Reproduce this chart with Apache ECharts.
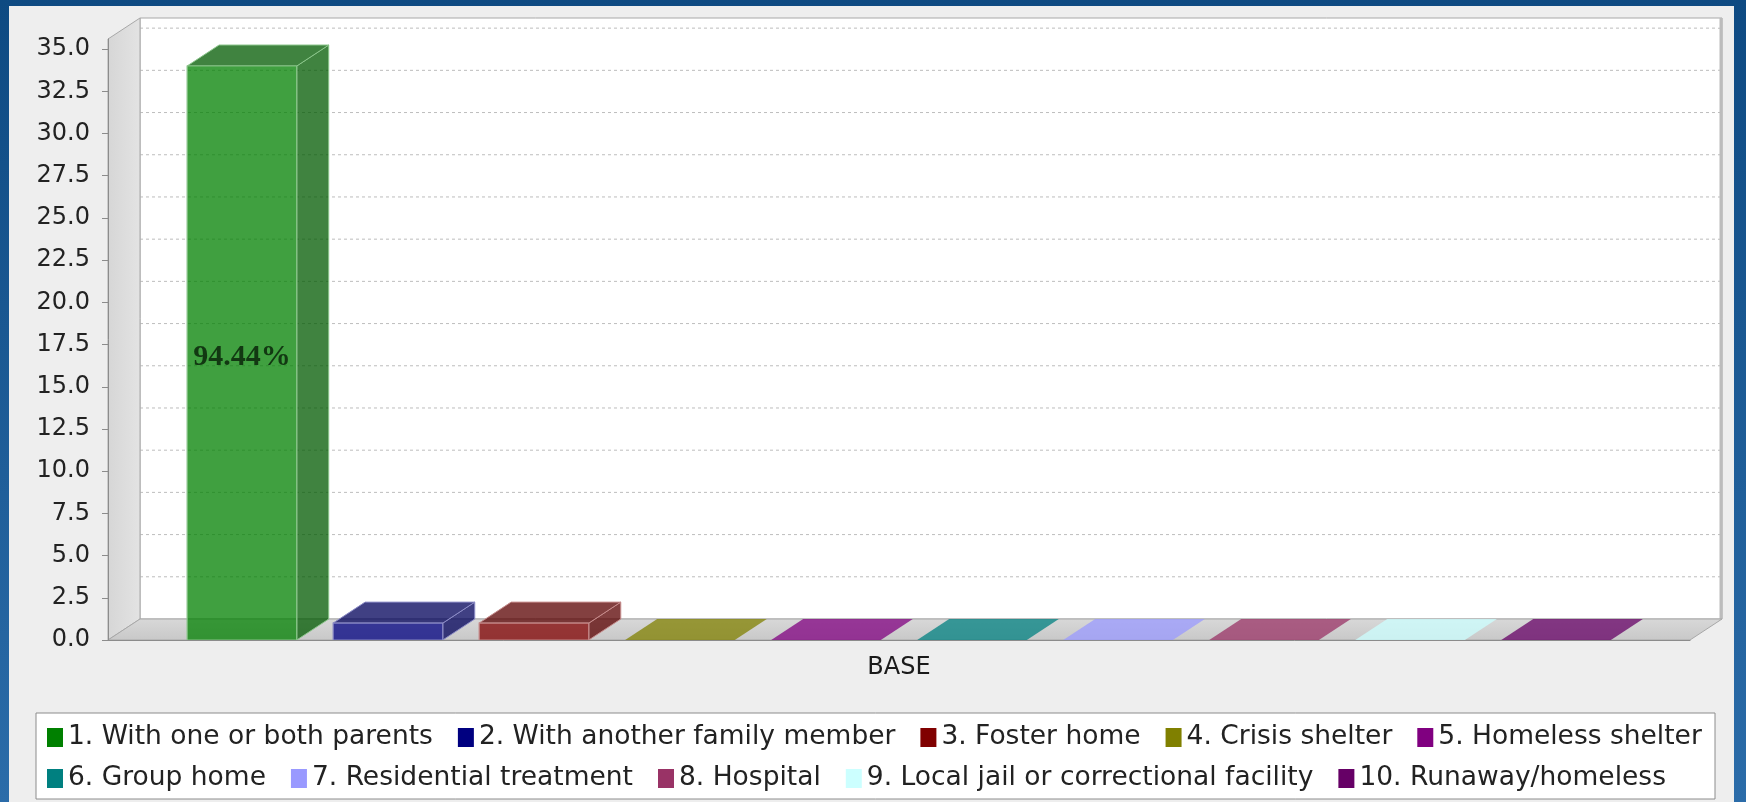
<!DOCTYPE html>
<html>
<head>
<meta charset="utf-8">
<script src="https://cdn.jsdelivr.net/npm/echarts@6/dist/echarts.min.js"></script>
<style>
html,body{margin:0;padding:0;background:#0f4c84;}
#chart{width:1746px;height:802px;}
</style>
</head>
<body>
<div id="chart"></div>
<script>
// ---------------- data ----------------
const categories = ['BASE'];
const seriesNames = [
  '1. With one or both parents',
  '2. With another family member',
  '3. Foster home',
  '4. Crisis shelter',
  '5. Homeless shelter',
  '6. Group home',
  '7. Residential treatment',
  '8. Hospital',
  '9. Local jail or correctional facility',
  '10. Runaway/homeless'
];
const seriesValues = [34, 1, 1, 0, 0, 0, 0, 0, 0, 0];
const seriesColors = ['#008000', '#000080', '#800000', '#808000', '#800080',
                      '#008080', '#9999ff', '#993366', '#ccffff', '#660066'];
const yTickValues = [0, 2.5, 5, 7.5, 10, 12.5, 15, 17.5, 20, 22.5, 25, 27.5, 30, 32.5, 35];
const yAxisMax = 35.6;
const legendRow1 = seriesNames.slice(0, 5);
const legendRow2 = seriesNames.slice(5);

// ---------------- style constants ----------------
const DX = 32, DY = 21;             // 3D depth offset
const LOWER = 0.05, UPPER = 0.05;   // category margins
const ITEM_MARGIN = 0.23;           // share of gaps between bars
const ALPHA = 0.75;
const LABEL_DY = 4;
const FONT = '"DejaVu Sans", sans-serif';

function hexToRgb(h) {
  h = h.replace('#', '');
  return [parseInt(h.substr(0, 2), 16), parseInt(h.substr(2, 2), 16), parseInt(h.substr(4, 2), 16)];
}
function rgba(c, a) { return 'rgba(' + c[0] + ',' + c[1] + ',' + c[2] + ',' + a + ')'; }
function darker(h) { return hexToRgb(h).map(v => Math.floor(v * 0.7)); }
function lighter(h) { return hexToRgb(h).map(v => Math.round(v + (255 - v) * 0.55)); }

const total = seriesValues.reduce((a, b) => a + b, 0);

function makeBarRenderer(i) {
  return function (params, api) {
    const bandW = api.size([1, 0])[0];
    const base = api.coord([api.value(0), 0]);
    const topPt = api.coord([api.value(0), api.value(1)]);
    const bandStart = base[0] - bandW / 2;
    const inner = bandW * (1 - LOWER - UPPER);
    const n = seriesValues.length;
    const w = inner * (1 - ITEM_MARGIN) / n;
    const gap = inner * ITEM_MARGIN / (n - 1);
    const x0 = bandStart + bandW * LOWER + i * (w + gap);
    const yB = base[1], yT = topPt[1];
    const col = seriesColors[i];
    const baseRgb = hexToRgb(col);
    const dark = darker(col);
    const light = rgba(lighter(col), 1);
    const h = yB - yT;
    const children = [];
    // side face
    children.push({
      type: 'polygon',
      shape: { points: [[x0 + w, yT], [x0 + w + DX, yT - DY], [x0 + w + DX, yB - DY], [x0 + w, yB]] },
      style: { fill: rgba(dark, ALPHA), stroke: h > 1 ? light : null, lineWidth: 1 }
    });
    // top face
    children.push({
      type: 'polygon',
      shape: { points: [[x0, yT], [x0 + DX, yT - DY], [x0 + w + DX, yT - DY], [x0 + w, yT]] },
      style: { fill: h > 1 ? rgba(dark, ALPHA) : rgba(baseRgb, ALPHA), stroke: h > 1 ? light : null, lineWidth: 1 }
    });
    // front face
    if (h > 0.5) {
      children.push({
        type: 'rect',
        shape: { x: x0, y: yT, width: w, height: h },
        style: { fill: rgba(baseRgb, ALPHA), stroke: light, lineWidth: 1.2 }
      });
    }
    // value label (percentage) when it fits inside the bar
    if (h > 40) {
      const pct = (api.value(1) / total * 100).toFixed(2) + '%';
      children.push({
        type: 'text',
        style: {
          text: pct, x: x0 + w / 2, y: (yT + yB) / 2 + LABEL_DY,
          align: 'center', verticalAlign: 'middle',
          fontFamily: '"Liberation Serif", serif', fontWeight: 'bold', fontSize: 30,
          fill: '#123812'
        }
      });
    }
    return { type: 'group', children: children };
  };
}

function renderFrame(params, api) {
  const cs = params.coordSys;
  const x1 = cs.x, x2 = cs.x + cs.width, yt = cs.y, yb = cs.y + cs.height;
  const children = [];
  // back wall
  children.push({
    type: 'rect',
    shape: { x: x1 + DX, y: yt - DY, width: cs.width, height: cs.height },
    style: { fill: '#ffffff', stroke: '#a8a8a8', lineWidth: 1 }
  });
  children.push({
    type: 'line',
    shape: { x1: x2 + DX - 1, y1: yt - DY, x2: x2 + DX - 1, y2: yb - DY },
    style: { stroke: '#bcbcbc', lineWidth: 3 }
  });
  // gridlines on back wall
  yTickValues.forEach(function (v) {
    if (v === 0) return;
    const y = api.coord([0, v])[1] - DY;
    children.push({
      type: 'line',
      shape: { x1: x1 + DX, y1: y, x2: x2 + DX - 2, y2: y },
      style: { stroke: '#bdbdbd', lineWidth: 1, lineDash: [3, 3] }
    });
  });
  // left wall
  children.push({
    type: 'polygon',
    shape: { points: [[x1, yt], [x1 + DX, yt - DY], [x1 + DX, yb - DY], [x1, yb]] },
    style: {
      fill: { type: 'linear', x: 0, y: 0, x2: 1, y2: 0,
              colorStops: [{ offset: 0, color: '#d6d6d6' }, { offset: 1, color: '#e3e3e3' }] },
      stroke: '#a8a8a8', lineWidth: 1
    }
  });
  // floor
  children.push({
    type: 'polygon',
    shape: { points: [[x1, yb], [x1 + DX, yb - DY], [x2 + DX, yb - DY], [x2, yb]] },
    style: {
      fill: { type: 'linear', x: 0, y: 0, x2: 0, y2: 1,
              colorStops: [{ offset: 0, color: '#d8d8d8' }, { offset: 1, color: '#c8c8c8' }] },
      stroke: '#a8a8a8', lineWidth: 1
    }
  });
  return { type: 'group', children: children };
}

const series = [{
  type: 'custom',
  name: '__frame',
  silent: true,
  z: 1,
  renderItem: renderFrame,
  data: [[0, 0]]
}];
seriesNames.forEach(function (name, i) {
  series.push({
    type: 'custom',
    name: name,
    z: 3,
    itemStyle: { color: seriesColors[i] },
    renderItem: makeBarRenderer(i),
    encode: { x: 0, y: 1 },
    data: [[0, seriesValues[i]]]
  });
});

const legendCommon = {
  left: 47,
  orient: 'horizontal',
  icon: 'rect',
  itemWidth: 16,
  itemHeight: 19,
  itemGap: 25,
  padding: 0,
  selectedMode: false,
  textStyle: { fontFamily: FONT, fontSize: 26.5, color: '#222222' }
};

const option = {
  animation: false,
  backgroundColor: {
    type: 'linear', x: 0, y: 0, x2: 0, y2: 1,
    colorStops: [{ offset: 0, color: '#0e4a82' }, { offset: 1, color: '#2b6ca9' }]
  },
  graphic: [
    { type: 'rect', z: -10, shape: { x: 9, y: 6, width: 1725, height: 800 },
      style: { fill: '#eeeeee' } },
    { type: 'rect', z: -9, shape: { x: 36, y: 713, width: 1679, height: 86 },
      style: { fill: '#ffffff', stroke: '#8c8c8c', lineWidth: 1 } }
  ],
  grid: { left: 108, right: 56, top: 39, bottom: 162, containLabel: false, outerBoundsMode: 'none' },
  xAxis: {
    type: 'category',
    data: categories,
    z: 5,
    axisLine: { show: true, lineStyle: { color: '#8c8c8c', width: 1 } },
    axisTick: { show: false },
    axisLabel: { margin: 16, fontFamily: FONT, fontSize: 24, color: '#1a1a1a' },
    splitLine: { show: false }
  },
  yAxis: {
    type: 'value',
    min: 0,
    max: yAxisMax,
    interval: 2.5,
    z: 5,
    axisLine: { show: true, lineStyle: { color: '#8c8c8c', width: 1 } },
    axisTick: { show: true, length: 6, lineStyle: { color: '#8c8c8c' }, customValues: yTickValues },
    axisLabel: {
      margin: 18, fontFamily: FONT, fontSize: 24, color: '#222222',
      customValues: yTickValues,
      formatter: function (v) { return yTickValues.indexOf(v) >= 0 ? v.toFixed(1) : ''; }
    },
    splitLine: { show: false }
  },
  legend: [
    Object.assign({}, legendCommon, { top: 724, data: legendRow1 }),
    Object.assign({}, legendCommon, { top: 765, data: legendRow2 })
  ],
  series: series
};

const chart = echarts.init(document.getElementById('chart'), null, { renderer: 'canvas' });
chart.setOption(option);
</script>
</body>
</html>
